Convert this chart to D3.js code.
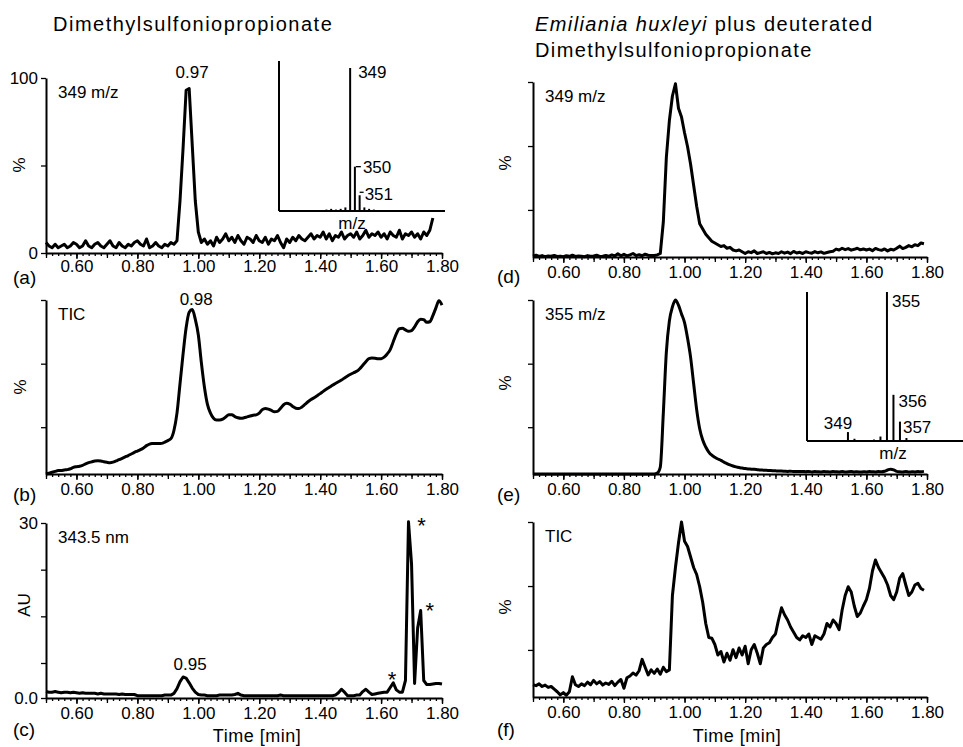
<!DOCTYPE html>
<html>
<head>
<meta charset="utf-8">
<script src="https://cdn.jsdelivr.net/npm/d3@7"></script>
<style>
  body { margin: 0; background: #fff; }
  svg text { font-family: 'Liberation Sans', Arial, sans-serif; fill: #000; }
</style>
</head>
<body>
<svg id="chart" width="963" height="747"></svg>
<script>
// time axis labels (min)
const timeTicks = [0.6, 0.8, 1.0, 1.2, 1.4, 1.6, 1.8]

// traces sampled every 0.01 min starting at 0.50 min
// (a) 349 m/z, DMSP standard
const traceA = [6,4,3,5,3,4,5,3,4,6,
  5,3,4,7,4,3,5,6,4,3,
  5,7,4,3,6,4,3,5,4,6,
  7,5,4,8,3,4,6,4,3,5,
  4,6,5,7,30,60,93,94,62,30,
  12,6,8,5,7,4,9,6,8,11,
  7,9,6,10,7,5,9,8,6,10,
  7,6,9,5,8,7,10,6,3,8,
  6,9,7,10,8,7,9,11,8,10,
  9,12,8,11,7,10,9,12,8,10,
  11,9,12,8,10,13,9,11,10,12,
  9,11,8,12,10,9,13,8,11,10,
  12,9,11,8,12,10,13,20]

// (b) TIC, DMSP standard
const traceB = [0,0.5,1,1.5,2,2,2.3,2.5,3,3.8,
  4.2,4.5,5,5.8,6.5,7,7.5,7.6,7.5,7,
  6.7,6.5,6.8,7.5,8.2,9,9.8,10.6,11.5,12.4,
  13.2,14,15,16.3,17.2,17.5,17.6,17.5,17.6,18.3,
  19.2,20.3,25,35,52,69,84,93,94.5,89,
  80,64,50,40,35,32,31,31,31.5,32.8,
  34,34,33,32.3,32,32.3,32.8,33.3,33.8,34,
  35,37,37.7,37.3,36.5,35.8,36,37.8,39.8,40.6,
  40.2,38.8,37.8,37.6,38.5,40,41.5,42.8,43.8,45,
  46.2,47.5,48.7,49.8,51,52,53,54,55.2,56.3,
  57.3,58.2,59,60.5,62.5,64.5,66.3,66.6,66.5,66.2,
  66.3,67.2,69,71.5,76,80.5,83.5,83.7,82.8,82,
  82.4,84.5,87.5,89,88.7,87.2,87.5,91,95.5,99.5,
  97]

// (c) UV 343.5 nm (AU)
const traceC = [1.1,1.0,1.0,1.1,1.0,0.9,1.0,1.0,0.9,1.0,
  0.9,0.8,0.9,0.8,0.8,0.8,0.8,0.7,0.8,0.7,
  0.7,0.7,0.7,0.7,0.6,0.7,0.6,0.6,0.6,0.6,
  0.4,0.4,0.4,0.4,0.4,0.4,0.4,0.4,0.4,0.5,
  0.5,0.5,0.8,1.6,2.8,3.6,3.4,2.6,1.7,1.0,
  0.6,0.5,0.5,0.4,0.4,0.4,0.4,0.5,0.5,0.5,
  0.5,0.5,0.6,0.8,0.5,0.4,0.4,0.4,0.4,0.4,
  0.4,0.4,0.4,0.4,0.4,0.4,0.4,0.5,0.4,0.4,
  0.4,0.4,0.4,0.4,0.4,0.4,0.4,0.4,0.4,0.4,
  0.4,0.4,0.4,0.4,0.4,0.5,0.9,1.5,1.0,0.4,
  0.4,0.4,0.5,0.5,1.1,1.5,1.0,0.6,0.7,0.8,
  0.9,1.0,1.0,1.8,2.6,1.4,1.0,1.0,3.0,30.2,
  23,2.5,12,15,3,2.3,2.3,2.4,2.5,2.5,
  2.4]

// (d) 349 m/z, E. huxleyi + d6-DMSP
const traceD = [0.5,1,0.3,0.8,0.2,0.6,0.4,0.9,0.3,0.5,
  0.2,0.7,0.4,1,0.3,0.6,0.5,0.2,0.8,0.4,
  0.6,1,0.3,0.5,0.9,0.4,1.2,0.6,1.8,0.7,
  1.5,0.6,1.2,2,0.8,1.3,0.7,1.6,1,0.8,
  0.9,1.2,2,20,57,78,92,99,85,80,
  71,63,53,41,29,19,16,13,11,9,
  8,7,6,6.5,5,5.5,4,3.5,4,3,
  2,3,2.5,3.5,2,2.5,3,2,2.6,1.8,
  2.4,2,3,2.2,2.8,1.9,3.2,2.3,2.7,2,
  3,2.5,2.2,3.1,2.4,2.9,2.1,2.6,3,3.3,
  4.5,4,5,4.2,4.8,3.9,4.4,5,4.1,4.6,
  4,4.5,3.6,4.9,4.2,3.8,4.6,3.5,4.4,4,
  5,6.2,4.8,5.5,6.5,5.8,7,6.5,8,7.6]

// (e) 355 m/z
const traceE = [0,0,0,0,0,0,0,0,0,0,
  0,0,0,0,0,0,0,0,0,0,
  0,0,0,0,0,0,0,0,0,0,
  0,0,0,0,0,0,0,0,0,0,
  0,0.5,4,35,70,88,96,100,97,92,
  87,78,67,52,37,26,19.5,15.5,12.6,10.8,
  9.6,8.6,7.8,6.8,6,5.2,4.6,4.1,3.7,3.4,
  3.1,2.9,2.8,2.7,2.5,2.3,2.2,2.1,2,1.9,
  1.8,1.7,1.7,1.6,1.5,1.6,1.4,1.5,1.4,1.5,
  1.3,1.5,1.2,1.4,1.3,1.2,1.4,1.3,1.2,1.4,
  1.3,1.2,1.4,1.1,1.3,1.4,1.2,1.3,1.1,1.3,
  1.2,1.4,1.3,1.2,1.4,1.3,1.6,2.3,2.8,2.4,
  1.5,1.3,1.2,1.4,1.1,1.3,1.2,1.4,1.3,1.5]

// (f) TIC
const traceF = [7,6.5,7.5,6,6.8,5.5,6,4.5,3,1.2,
  2.5,1,3,11.6,7,6,7.5,6.5,8.5,7,
  9.5,7.5,8.8,6.8,8,7.2,9,6.5,8.5,10,
  5,11,12,13.7,12.5,15,21.5,17,12.6,15.5,
  13.5,16,13,17,14.5,15.5,58,74,88,100,
  89,86,80,74,70,63,54,42,34,33.6,
  30,24,26,20,25,21,27,22.5,28,24,
  29,19,27,30,25,19,28,30,31,34,
  36,44,51,47,44,40,37,34,32.6,35,
  34,36,30,35,34,33,36,42,40,44,
  42,38.5,49.7,58,63,60,52,46,48,52,
  55.6,62,72,78.3,74,71,68,64,58,55.6,
  60,68,70.5,64,58,60,64,65,62,61]

// mass spectra insets (m/z, relative intensity %)
const dmspMass = [344, 345, 346, 347, 348, 349, 350, 351, 352, 353, 354]
const dmspInt = [1, 1.5, 1, 1.5, 2.5, 100, 31, 11, 2.5, 1.5, 1]
const d6Mass = [349, 350, 353, 354, 355, 356, 357, 358]
const d6Int = [6, 1.5, 1, 3, 100, 31, 13, 2]

// asterisks in (c)
const starTimes = [1.636, 1.733, 1.76]
const starValues = [4.1, 30.5, 16]

const times = d3.range(131).map(i => Math.round((0.5 + i * 0.01) * 100) / 100)

const svg = d3.select('#chart')

function drawPanel(p) {
  let x = d3.scaleLinear().domain([0.5, 1.8]).range(p.xr)
  let y = d3.scaleLinear().domain(p.yDomain).range([p.bottom, p.top])
  let g = svg.append('g')

  // trace
  g.append('path')
    .datum(p.values)
    .attr('d', d3.line().x((d, i) => x(times[i])).y(d => y(d)).curve(p.curve || d3.curveLinear))
    .attr('fill', 'none')
    .attr('stroke', '#000')
    .attr('stroke-width', 3)
    .attr('stroke-linejoin', 'round')

  // small ticks every 0.02, longer every 0.1
  g.append('g')
    .attr('transform', `translate(0,${p.bottom})`)
    .call(d3.axisBottom(x).tickValues(d3.range(0.5, 1.801, 0.02)).tickSize(3).tickFormat(''))
    .call(a => a.select('.domain').remove())
  g.append('g')
    .attr('transform', `translate(0,${p.bottom})`)
    .call(d3.axisBottom(x).tickValues(d3.range(0.5, 1.801, 0.1)).tickSize(5).tickFormat(''))
    .call(a => a.select('.domain').remove())
  let xa = g.append('g')
    .attr('transform', `translate(0,${p.bottom})`)
    .call(d3.axisBottom(x).tickValues(timeTicks).tickSize(6).tickSizeOuter(0)
      .tickPadding(p.labelPad).tickFormat(d3.format('.2f')))
  xa.select('.domain').attr('stroke-width', 2)
  xa.selectAll('text').attr('font-size', 17).attr('font-family', null)

  let ya = g.append('g')
    .attr('transform', `translate(${p.xr[0]},0)`)
    .call(d3.axisLeft(y).tickValues(p.yTicks).tickSize(5).tickSizeOuter(0)
      .tickPadding(3).tickFormat((d, i) => p.yTickText[i]))
  ya.select('.domain').attr('stroke-width', 2)
  ya.selectAll('text').attr('font-size', 17).attr('font-family', null)

  g.selectAll('.tick line').attr('stroke-width', 1.3)

  // y title
  g.append('text')
    .text(p.yTitle)
    .attr('transform', `translate(${p.yTitleX},${p.yTitleY}) rotate(-90)`)
    .attr('text-anchor', 'middle')
    .attr('dy', '0.35em')
    .attr('font-size', 17)

  // trace label
  g.append('text')
    .text(p.note)
    .attr('x', p.xr[0] + 12)
    .attr('y', p.top + 20)
    .attr('font-size', 17)

  // panel tag
  g.append('text')
    .text(p.tag)
    .attr('x', p.tagX)
    .attr('y', p.tagY)
    .attr('font-size', 19)

  return { x, y, g }
}

function drawInset(o) {
  let x = d3.scaleLinear().domain(o.massDomain).range([o.left, o.right])
  let y = d3.scaleLinear().domain([0, 100]).range([o.bottom, o.peakTop])
  let g = svg.append('g')
  g.append('line')
    .attr('x1', o.left).attr('x2', o.left)
    .attr('y1', o.axisTop).attr('y2', o.bottom)
    .attr('stroke', '#000').attr('stroke-width', 2)
  g.append('line')
    .attr('x1', o.left).attr('x2', o.right)
    .attr('y1', o.bottom).attr('y2', o.bottom)
    .attr('stroke', '#000').attr('stroke-width', 2)
  g.selectAll('.stick')
    .data(o.masses)
    .enter()
    .append('line')
    .attr('class', 'stick')
    .attr('x1', d => x(d)).attr('x2', d => x(d))
    .attr('y1', o.bottom)
    .attr('y2', (d, i) => y(o.ints[i]))
    .attr('stroke', '#000')
    .attr('stroke-width', 2)
  g.append('text')
    .text('m/z')
    .attr('x', o.mzX)
    .attr('y', o.bottom + 18)
    .attr('text-anchor', 'middle')
    .attr('font-size', 17)
  return { x, y, g }
}

let leftX = [46, 442]
let rightX = [533, 927]
let pctTicks = [100, 63.4, 26.9]

// titles
svg.append('text')
  .text('Dimethylsulfoniopropionate')
  .attr('x', 53).attr('y', 31)
  .attr('font-size', 20)
  .attr('letter-spacing', 1.5)

let t1 = svg.append('text')
  .attr('x', 535).attr('y', 31)
  .attr('font-size', 20)
  .attr('letter-spacing', 1.4)
t1.append('tspan').text('Emiliania huxleyi').attr('font-style', 'italic')
t1.append('tspan').text(' plus deuterated')

svg.append('text')
  .text('Dimethylsulfoniopropionate')
  .attr('x', 535).attr('y', 57)
  .attr('font-size', 20)
  .attr('letter-spacing', 1.4)

// (a)
let pa = drawPanel({
  xr: leftX, top: 78, bottom: 253, yDomain: [0, 100],
  yTicks: [0, 50, 100], yTickText: ['0', '', '100'],
  values: traceA, labelPad: 1,
  yTitle: '%', yTitleX: 19, yTitleY: 165,
  note: '349 m/z', tag: '(a)', tagX: 13, tagY: 284
})
pa.g.append('text').text('0.97')
  .attr('x', pa.x(0.97) + 3).attr('y', pa.y(100))
  .attr('text-anchor', 'middle').attr('font-size', 17)

let ia = drawInset({
  massDomain: [334, 369], left: 279, right: 445,
  bottom: 211, peakTop: 68, axisTop: 61,
  masses: dmspMass, ints: dmspInt, mzX: 352
})
ia.g.append('text').text('349')
  .attr('x', ia.x(349) + 8).attr('y', ia.y(100) + 10).attr('font-size', 17)
ia.g.append('line')
  .attr('x1', ia.x(350) + 1).attr('x2', ia.x(350) + 6)
  .attr('y1', ia.y(31)).attr('y2', ia.y(31))
  .attr('stroke', '#000').attr('stroke-width', 1.3)
ia.g.append('text').text('350')
  .attr('x', ia.x(350) + 8).attr('y', ia.y(31) + 6).attr('font-size', 17)
ia.g.append('line')
  .attr('x1', ia.x(351)).attr('x2', ia.x(351) + 4)
  .attr('y1', ia.y(11) - 3).attr('y2', ia.y(11) - 3)
  .attr('stroke', '#000').attr('stroke-width', 1.3)
ia.g.append('text').text('351')
  .attr('x', ia.x(351) + 5).attr('y', ia.y(11) + 5).attr('font-size', 17)

// (b)
let pb = drawPanel({
  xr: leftX, top: 300, bottom: 474, yDomain: [0, 100],
  yTicks: pctTicks, yTickText: ['', '', ''],
  values: traceB, curve: d3.curveMonotoneX, labelPad: 3,
  yTitle: '%', yTitleX: 20, yTitleY: 387,
  note: 'TIC', tag: '(b)', tagX: 13, tagY: 501
})
pb.g.append('text').text('0.98')
  .attr('x', pb.x(0.98) + 4).attr('y', pb.y(100) + 5)
  .attr('text-anchor', 'middle').attr('font-size', 17)

// (c)
let pc = drawPanel({
  xr: leftX, top: 523, bottom: 698, yDomain: [0, 30],
  yTicks: [0, 6, 14, 22, 30], yTickText: ['0.0', '', '', '', '30'],
  values: traceC, labelPad: 3,
  yTitle: 'AU', yTitleX: 24, yTitleY: 605,
  note: '343.5 nm', tag: '(c)', tagX: 13, tagY: 736
})
pc.g.append('text').text('0.95')
  .attr('x', pc.x(0.95) + 7).attr('y', pc.y(3.6) - 7)
  .attr('text-anchor', 'middle').attr('font-size', 17)
pc.g.selectAll('.star')
  .data(starTimes)
  .enter()
  .append('text')
  .attr('class', 'star')
  .text('*')
  .attr('x', d => pc.x(d))
  .attr('y', (d, i) => pc.y(starValues[i]) + 13)
  .attr('text-anchor', 'middle')
  .attr('font-size', 22)
pc.g.append('text').text('Time [min]')
  .attr('x', 257).attr('y', 742)
  .attr('text-anchor', 'middle').attr('font-size', 18).attr('letter-spacing', 0.5)

// (d)
drawPanel({
  xr: rightX, top: 82, bottom: 257, yDomain: [0, 100],
  yTicks: pctTicks, yTickText: ['', '', ''],
  values: traceD, labelPad: 3,
  yTitle: '%', yTitleX: 505, yTitleY: 163,
  note: '349 m/z', tag: '(d)', tagX: 497, tagY: 283
})

// (e)
drawPanel({
  xr: rightX, top: 300, bottom: 474, yDomain: [0, 100],
  yTicks: pctTicks, yTickText: ['', '', ''],
  values: traceE, curve: d3.curveMonotoneX, labelPad: 3,
  yTitle: '%', yTitleX: 505, yTitleY: 383,
  note: '355 m/z', tag: '(e)', tagX: 497, tagY: 501
})
let ie = drawInset({
  massDomain: [342.7, 366.7], left: 807, right: 963,
  bottom: 441, peakTop: 292, axisTop: 292,
  masses: d6Mass, ints: d6Int, mzX: 893
})
ie.g.append('text').text('355')
  .attr('x', ie.x(355) + 5).attr('y', ie.y(100) + 15).attr('font-size', 17)
ie.g.append('text').text('356')
  .attr('x', ie.x(356) + 5).attr('y', ie.y(31) + 12).attr('font-size', 17)
ie.g.append('text').text('357')
  .attr('x', ie.x(357) + 3).attr('y', ie.y(13) + 11).attr('font-size', 17)
ie.g.append('text').text('349')
  .attr('x', ie.x(349) - 10).attr('y', ie.y(6) - 3)
  .attr('text-anchor', 'middle').attr('font-size', 17)

// (f)
let pf = drawPanel({
  xr: rightX, top: 522, bottom: 697, yDomain: [0, 100],
  yTicks: pctTicks, yTickText: ['', '', ''],
  values: traceF, labelPad: 3,
  yTitle: '%', yTitleX: 505, yTitleY: 607,
  note: 'TIC', tag: '(f)', tagX: 497, tagY: 736
})
pf.g.append('text').text('Time [min]')
  .attr('x', 737).attr('y', 742)
  .attr('text-anchor', 'middle').attr('font-size', 18).attr('letter-spacing', 0.5)
</script>
</body>
</html>
